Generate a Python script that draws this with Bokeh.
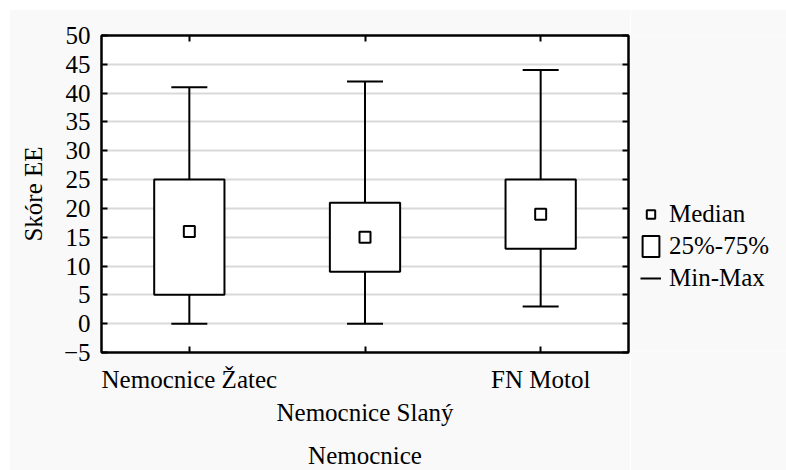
from bokeh.plotting import figure
from bokeh.layouts import row
from bokeh.models import (Range1d, LinearAxis, FixedTicker, Legend, LegendItem,
                          ColumnDataSource, Grid)
from bokeh.embed import file_html
from bokeh.resources import INLINE

categories = ["Nemocnice Žatec", "Nemocnice Slaný", "FN Motol"]
minimum = [0, 0, 3]
q1 = [5, 9, 13]
median = [16, 15, 19]
q3 = [25, 21, 25]
maximum = [41, 42, 44]
y_ticks = list(range(-5, 51, 5))
legend_labels = ["Median", "25%-75%", "Min-Max"]

FONT = "Liberation Serif"
FS = "25px"
BG = "#f9f9f9"

xpos = [i + 0.5 for i in range(len(categories))]

src = ColumnDataSource(dict(x=xpos, minimum=minimum, q1=q1, median=median,
                            q3=q3, maximum=maximum))

p = figure(frame_width=527, frame_height=317, output_backend="svg",
           toolbar_location=None,
           x_range=Range1d(0, len(categories)), y_range=Range1d(-5, 50),
           x_axis_location=None, y_axis_location=None,
           min_border_left=92, min_border_top=26, min_border_right=2,
           min_border_bottom=116,
           background_fill_color="white", border_fill_color=BG,
           outline_line_color="black", outline_line_width=2)
p.margin = (9, 0, 0, 9)
p.center = [c for c in p.center if not isinstance(c, Grid)]


def style_axis(ax):
    ax.axis_line_color = "black"
    ax.axis_line_width = 2
    ax.major_tick_line_color = "black"
    ax.major_tick_line_width = 2
    ax.major_tick_in = 6
    ax.major_tick_out = 0
    ax.minor_tick_line_color = None
    ax.major_label_text_font = FONT
    ax.major_label_text_font_size = FS
    ax.major_label_text_color = "black"
    ax.axis_label_text_font = FONT
    ax.axis_label_text_font_size = FS
    ax.axis_label_text_font_style = "normal"
    ax.axis_label_text_color = "black"


left = LinearAxis(ticker=FixedTicker(ticks=y_ticks), axis_label="Skóre EE")
style_axis(left)
left.major_label_standoff = 11
left.axis_label_standoff = 14
p.add_layout(left, "left")

top = LinearAxis(ticker=FixedTicker(ticks=xpos),
                 major_label_overrides={x: "" for x in xpos})
style_axis(top)
top.major_label_standoff = 0
p.add_layout(top, "above")

bottom1 = LinearAxis(ticker=FixedTicker(ticks=xpos),
                     major_label_overrides={xpos[0]: categories[0], xpos[1]: "",
                                            xpos[2]: categories[2]})
style_axis(bottom1)
bottom1.major_label_standoff = 13
p.add_layout(bottom1, "below")

bottom2 = LinearAxis(ticker=FixedTicker(ticks=[xpos[1]]),
                     major_label_overrides={xpos[1]: categories[1]},
                     axis_label="Nemocnice")
style_axis(bottom2)
bottom2.axis_line_color = None
bottom2.major_tick_line_color = None
bottom2.major_tick_in = 0
bottom2.major_label_standoff = 3
bottom2.axis_label_standoff = 13
p.add_layout(bottom2, "below")

right = LinearAxis(ticker=FixedTicker(ticks=y_ticks),
                   major_label_overrides={y: "" for y in y_ticks})
style_axis(right)
right.major_label_standoff = 0
p.add_layout(right, "right")

p.add_layout(Grid(dimension=1, ticker=FixedTicker(ticks=y_ticks),
                  grid_line_color="#d9d9d9", grid_line_width=2))

box_style = dict(fill_color="white", line_color="black", line_width=2)
line_style = dict(line_color="black", line_width=2)

p.vbar(x="x", width=0.4, bottom="q1", top="q3", source=src, **box_style)
p.segment(x0="x", y0="q3", x1="x", y1="maximum", source=src, **line_style)
p.segment(x0="x", y0="q1", x1="x", y1="minimum", source=src, **line_style)
p.scatter(x="x", y="maximum", marker="dash", size=36, source=src, **line_style)
p.scatter(x="x", y="minimum", marker="dash", size=36, source=src, **line_style)
p.scatter(x="x", y="median", marker="square", size=11, source=src, **box_style)

# legend panel (same data, renderers shown only as legend keys)
lg = figure(width=156, height=461, output_backend="svg", toolbar_location=None,
            x_range=Range1d(0, len(categories)), y_range=Range1d(-5, 50),
            x_axis_location=None, y_axis_location=None,
            min_border=0, background_fill_color=BG, border_fill_color=BG,
            outline_line_color=None)
lg.margin = (9, 0, 0, 0)
lg.center = [c for c in lg.center if not isinstance(c, Grid)]
r_med = lg.scatter(x="x", y="median", marker="square", size=11, source=src,
                   visible=False, **box_style)
r_box = lg.vbar(x="x", width=0.4, bottom="q1", top="q3", source=src,
                visible=False, **box_style)
r_mm = lg.segment(x0="x", y0="q1", x1="x", y1="minimum", source=src,
                  visible=False, **line_style)

legend = Legend(items=[LegendItem(label=legend_labels[0], renderers=[r_med]),
                       LegendItem(label=legend_labels[1], renderers=[r_box]),
                       LegendItem(label=legend_labels[2], renderers=[r_mm])],
                location=(10, 59), glyph_width=21, glyph_height=26, spacing=4,
                label_standoff=8, padding=0, margin=0, border_line_color=None,
                background_fill_alpha=0, label_text_font=FONT,
                label_text_font_size=FS, label_text_color="black",
                orientation="vertical")
lg.add_layout(legend, "center")

layout = row(p, lg, spacing=0)
open("out.html", "w").write(file_html(layout, INLINE))
